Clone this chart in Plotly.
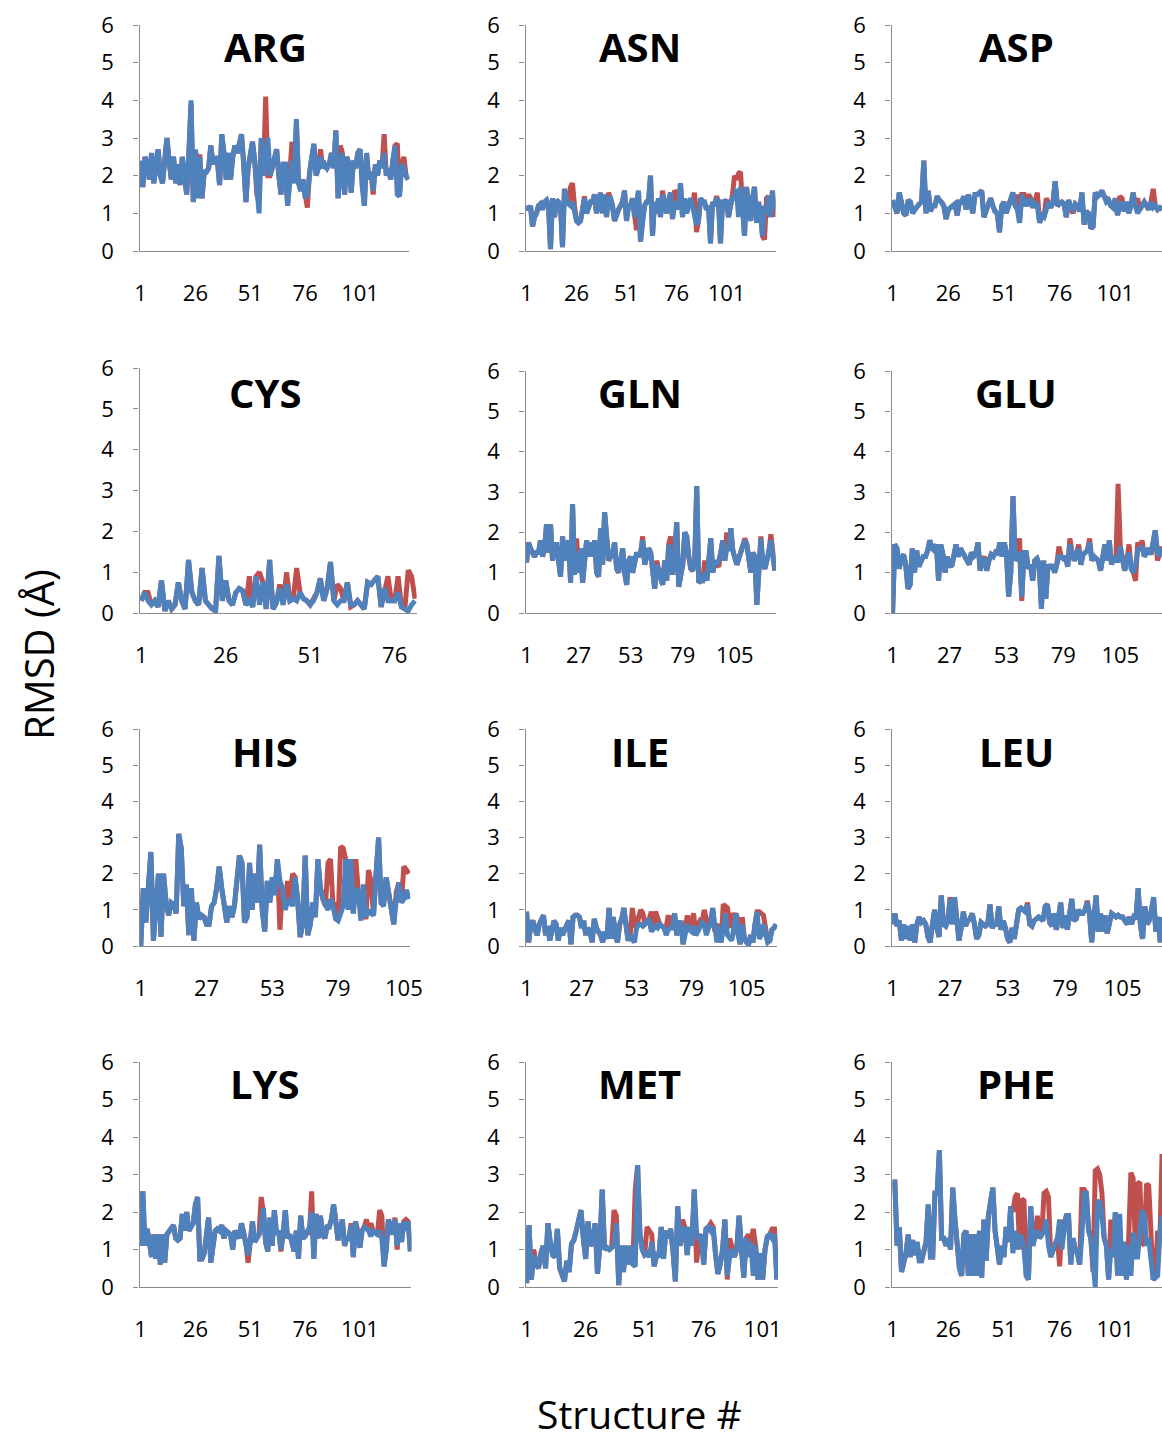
import plotly.graph_objects as go

W, H = 1162, 1439

# RMSD (Å) per structure; *_S1 is drawn first (red), *_S2 on top (blue)
ARG_S1 = [2.4, 1.7, 2.5, 2.3, 1.9, 2.6, 1.8, 2.4, 2.7, 2.0,
          1.8, 2.4, 3.0, 2.4, 1.9, 2.5, 1.8, 2.3, 1.75, 2.5,
          2.0, 1.5, 2.6, 3.9, 1.3, 2.6, 2.5, 2.5, 1.4, 2.1,
          2.1, 2.2, 2.8, 2.3, 2.5, 2.4, 1.75, 3.1, 2.6, 1.9,
          2.6, 1.9, 2.5, 2.8, 2.6, 2.9, 3.1, 2.3, 1.3, 2.2,
          2.5, 2.9, 2.4, 1.5, 1.3, 3.0, 2.0, 4.1, 2.0, 2.0,
          2.2, 2.4, 2.7, 2.0, 1.5, 2.3, 2.3, 1.2, 2.0, 2.9,
          1.8, 3.4, 1.8, 1.6, 1.9, 1.4, 1.15, 2.1, 2.5, 2.8,
          2.0, 2.2, 2.7, 2.2, 2.3, 2.2, 2.3, 2.6, 2.2, 3.2,
          1.4, 2.8, 2.6, 1.5, 2.5, 2.3, 1.55, 2.4, 2.2, 2.6,
          2.7, 1.7, 1.2, 2.6, 1.9, 2.1, 1.5, 2.3, 2.0, 2.4,
          2.2, 3.1, 2.0, 2.2, 1.9, 2.4, 2.8, 2.85, 1.45, 2.3,
          2.5, 2.0, 1.9]
ARG_S2 = [2.4, 1.7, 2.5, 2.3, 1.9, 2.6, 1.8, 2.4, 2.7, 2.0,
          1.8, 2.4, 3.0, 2.4, 1.9, 2.5, 1.8, 2.3, 1.75, 2.5,
          2.0, 1.5, 2.6, 4.0, 1.3, 2.7, 1.4, 2.5, 1.4, 2.1,
          2.1, 2.2, 2.8, 2.3, 2.5, 2.4, 1.75, 3.1, 2.6, 1.9,
          2.6, 1.9, 2.5, 2.8, 2.6, 2.9, 3.1, 2.3, 1.3, 2.2,
          2.5, 2.9, 2.4, 1.5, 1.0, 3.0, 2.0, 2.3, 3.0, 2.0,
          2.2, 2.4, 2.7, 2.0, 1.5, 2.3, 2.3, 1.2, 2.0, 2.4,
          1.8, 3.5, 1.8, 1.6, 1.9, 1.4, 1.5, 2.1, 2.5, 2.85,
          2.0, 2.2, 2.5, 2.2, 2.3, 2.2, 2.3, 2.6, 2.2, 3.2,
          1.4, 2.0, 2.6, 1.5, 2.5, 2.3, 1.55, 2.4, 2.2, 2.6,
          2.7, 1.7, 1.2, 2.6, 1.9, 2.1, 1.6, 2.3, 2.0, 2.4,
          2.2, 2.6, 2.0, 2.2, 1.9, 2.4, 2.8, 1.5, 1.45, 2.3,
          2.2, 2.0, 1.9]

ASN_S1 = [1.2, 1.1, 1.2, 0.65, 0.9, 1.0, 1.2, 1.25, 1.1, 1.3,
          1.35, 1.2, 0.05, 1.4, 0.9, 1.35, 1.3, 1.2, 0.1, 1.65,
          1.3, 1.25, 1.7, 1.8, 1.2, 0.8, 0.75, 0.8, 1.1, 1.45,
          1.0, 1.2, 1.3, 1.3, 1.5, 1.0, 1.3, 1.55, 1.0, 1.5,
          0.9, 1.55, 1.4, 1.2, 0.8, 1.0, 1.1, 1.2, 1.3, 1.6,
          0.8, 1.2, 1.2, 1.4, 0.9, 0.55, 1.6, 0.25, 0.8, 1.2,
          1.3, 1.3, 2.0, 0.4, 1.3, 1.0, 1.4, 0.9, 1.6, 1.3,
          1.0, 1.3, 1.55, 0.85, 1.6, 1.55, 1.1, 1.8, 0.9, 1.4,
          1.0, 1.2, 1.4, 1.2, 1.55, 0.5, 0.8, 1.4, 1.3, 1.3,
          1.1, 1.2, 0.2, 1.3, 1.2, 1.45, 1.3, 0.2, 1.3, 1.3,
          1.35, 0.9, 1.2, 1.5, 2.0, 1.9, 2.05, 2.1, 1.2, 0.4,
          1.7, 1.2, 0.8, 1.4, 1.7, 0.75, 1.3, 1.0, 0.4, 0.3,
          1.4, 1.45, 0.9, 1.6, 0.9]
ASN_S2 = [1.2, 1.1, 1.2, 0.65, 0.9, 1.0, 1.2, 1.25, 1.1, 1.3,
          1.35, 1.2, 0.05, 1.4, 0.9, 1.35, 1.3, 1.2, 0.1, 1.65,
          1.3, 1.25, 1.2, 1.3, 1.1, 0.8, 0.75, 0.8, 1.1, 1.4,
          1.0, 1.2, 1.3, 1.3, 1.5, 1.0, 1.3, 1.55, 1.0, 1.5,
          0.9, 1.4, 1.4, 1.2, 0.8, 1.0, 1.1, 1.2, 1.3, 1.6,
          0.8, 1.2, 1.2, 1.4, 0.9, 1.3, 1.6, 0.25, 0.8, 1.2,
          1.3, 1.3, 2.0, 0.4, 1.3, 1.0, 1.4, 0.9, 1.5, 1.3,
          1.0, 1.3, 1.55, 0.85, 1.2, 1.3, 1.1, 1.8, 0.9, 1.4,
          1.0, 1.2, 1.4, 1.2, 1.0, 0.7, 0.8, 1.4, 1.3, 1.3,
          1.1, 1.2, 0.2, 1.3, 1.2, 1.4, 1.3, 0.2, 1.3, 1.3,
          1.35, 0.9, 1.2, 1.4, 1.4, 1.65, 0.9, 1.7, 1.2, 0.4,
          1.7, 1.2, 0.8, 1.4, 1.7, 0.75, 1.3, 1.0, 0.4, 1.2,
          1.0, 1.45, 0.9, 1.6, 1.1]

ASP_S1 = [1.35, 1.2, 1.0, 1.55, 1.2, 1.0, 0.95, 1.35, 1.3, 1.0,
          1.1, 1.2, 1.25, 1.3, 2.4, 1.0, 1.6, 1.05, 1.2, 1.2,
          1.45, 1.35, 1.3, 1.2, 0.85, 1.1, 1.15, 1.2, 1.25, 0.95,
          1.3, 1.3, 1.45, 1.1, 1.5, 1.3, 1.0, 1.5, 1.5, 1.55,
          1.6, 0.9, 1.1, 1.2, 1.4, 1.2, 1.05, 1.0, 0.5, 1.2,
          1.3, 1.0, 1.2, 1.4, 1.55, 1.2, 1.5, 0.75, 1.5, 1.5,
          1.3, 1.5, 1.4, 1.15, 1.3, 1.55, 0.75, 0.95, 0.9, 1.4,
          1.3, 1.15, 1.3, 1.85, 1.2, 1.25, 1.3, 1.25, 0.9, 1.35,
          1.15, 1.0, 1.25, 1.2, 1.05, 1.55, 0.7, 1.05, 1.0, 0.6,
          0.65, 1.55, 1.45, 1.5, 1.6, 1.45, 1.4, 1.35, 1.2, 1.15,
          1.4, 0.95, 1.45, 1.4, 1.05, 1.3, 1.0, 1.2, 1.55, 1.2,
          1.4, 1.1, 1.2, 1.3, 1.2, 1.1, 1.3, 1.65, 1.2, 1.1,
          1.15, 1.1]
ASP_S2 = [1.35, 1.2, 1.0, 1.55, 1.2, 1.0, 0.95, 1.35, 1.3, 1.0,
          1.1, 1.2, 1.25, 1.3, 2.4, 1.0, 1.6, 1.05, 1.2, 1.2,
          1.45, 1.35, 1.25, 1.2, 0.85, 1.1, 1.15, 1.2, 1.25, 0.95,
          1.3, 1.3, 1.45, 1.1, 1.5, 1.3, 1.0, 1.5, 1.5, 1.55,
          1.6, 0.9, 1.1, 1.2, 1.4, 1.2, 1.05, 1.0, 0.5, 1.2,
          1.3, 1.0, 1.2, 1.4, 1.55, 1.2, 1.1, 0.75, 1.5, 1.2,
          1.3, 1.2, 1.4, 1.15, 1.3, 1.2, 0.75, 0.95, 0.9, 1.1,
          1.3, 1.15, 1.3, 1.85, 1.2, 1.25, 1.3, 1.25, 0.9, 1.35,
          1.15, 1.1, 1.25, 1.2, 1.05, 1.55, 0.7, 1.05, 1.0, 0.6,
          0.65, 1.55, 1.45, 1.5, 1.6, 1.45, 1.3, 1.35, 1.2, 1.15,
          1.4, 0.95, 1.2, 1.3, 1.05, 1.3, 1.0, 1.2, 1.55, 1.2,
          1.0, 1.1, 1.2, 1.3, 1.2, 1.1, 1.3, 1.15, 1.2, 1.1,
          1.15, 1.1]

CYS_S1 = [0.3, 0.5, 0.5, 0.2, 0.3, 0.15, 0.8, 0.05, 0.3, 0.1,
          0.2, 0.75, 0.3, 0.1, 1.3, 0.5, 0.3, 0.2, 1.1, 0.3,
          0.2, 0.1, 0.05, 1.4, 0.3, 0.8, 0.3, 0.2, 0.5, 0.6,
          0.55, 0.2, 0.9, 0.15, 0.9, 1.0, 0.75, 0.1, 1.3, 0.1,
          0.25, 0.7, 0.2, 1.0, 0.3, 0.35, 1.1, 0.5, 0.35, 0.3,
          0.2, 0.35, 0.5, 0.85, 0.3, 0.6, 1.25, 0.3, 0.7, 0.6,
          0.3, 0.75, 0.15, 0.2, 0.3, 0.2, 0.1, 0.75, 0.7, 0.8,
          0.9, 0.15, 0.6, 0.9, 0.3, 0.3, 0.9, 0.15, 0.1, 1.05,
          0.9, 0.35]
CYS_S2 = [0.3, 0.5, 0.3, 0.2, 0.3, 0.15, 0.8, 0.05, 0.3, 0.1,
          0.2, 0.75, 0.3, 0.1, 1.3, 0.5, 0.3, 0.2, 1.1, 0.3,
          0.2, 0.1, 0.05, 1.4, 0.3, 0.8, 0.3, 0.2, 0.5, 0.6,
          0.55, 0.2, 0.3, 0.15, 0.9, 0.2, 0.75, 0.1, 1.3, 0.1,
          0.25, 0.6, 0.2, 0.7, 0.3, 0.35, 0.3, 0.5, 0.35, 0.3,
          0.2, 0.3, 0.5, 0.85, 0.3, 0.6, 1.25, 0.3, 0.2, 0.3,
          0.3, 0.75, 0.2, 0.2, 0.3, 0.2, 0.1, 0.75, 0.7, 0.8,
          0.9, 0.15, 0.6, 0.3, 0.3, 0.3, 0.5, 0.15, 0.1, 0.05,
          0.2, 0.3]

GLN_S1 = [1.25, 1.75, 1.6, 1.5, 1.4, 1.5, 1.5, 1.8, 1.4, 1.6,
          2.2, 1.5, 2.2, 1.3, 1.7, 1.7, 1.2, 0.9, 1.9, 1.3,
          1.6, 1.8, 0.75, 2.7, 0.95, 1.85, 1.0, 1.6, 0.75, 1.3,
          1.8, 1.4, 1.75, 1.4, 1.8, 1.0, 0.9, 2.1, 1.2, 2.5,
          1.8, 1.3, 1.4, 1.5, 1.75, 1.1, 1.0, 1.4, 1.6, 1.0,
          0.7, 1.3, 1.4, 1.0, 1.2, 1.5, 1.4, 1.5, 1.9, 1.2,
          1.4, 1.6, 1.5, 1.0, 0.6, 1.3, 1.0, 0.85, 0.7, 1.3,
          0.8, 1.7, 1.9, 0.95, 1.5, 2.25, 0.65, 1.0, 1.2, 2.0,
          1.9, 1.4, 1.1, 1.05, 1.3, 3.15, 0.75, 0.8, 0.8, 1.3,
          0.8, 1.3, 1.85, 1.0, 1.3, 1.2, 1.15, 1.5, 1.8, 1.3,
          2.0, 1.55, 2.1, 1.55, 1.4, 1.2, 1.35, 1.5, 1.7, 1.85,
          1.7, 1.3, 1.0, 1.5, 1.4, 0.2, 1.2, 1.9, 1.2, 1.1,
          1.3, 1.5, 1.95, 1.4, 1.05]
GLN_S2 = [1.25, 1.75, 1.6, 1.5, 1.4, 1.5, 1.5, 1.8, 1.4, 1.6,
          2.2, 1.5, 2.2, 1.3, 1.7, 1.7, 1.2, 0.9, 1.9, 1.3,
          1.6, 1.8, 0.75, 2.7, 0.95, 1.5, 1.0, 1.6, 0.75, 1.3,
          1.8, 1.4, 1.75, 1.4, 1.8, 1.0, 0.9, 2.1, 1.2, 2.5,
          1.8, 1.3, 1.4, 1.5, 1.75, 1.1, 1.0, 1.4, 1.6, 1.0,
          0.7, 1.3, 1.4, 1.0, 1.2, 1.5, 1.4, 1.5, 1.8, 1.2,
          1.4, 1.6, 1.5, 1.0, 0.6, 1.2, 1.0, 0.85, 0.7, 1.3,
          0.8, 1.7, 1.4, 0.95, 1.5, 2.25, 0.65, 1.0, 1.2, 2.0,
          1.9, 1.4, 1.1, 1.05, 1.3, 3.15, 0.75, 0.8, 0.8, 1.0,
          0.8, 1.3, 1.85, 1.0, 1.3, 1.2, 1.3, 1.5, 1.8, 1.3,
          1.6, 1.55, 2.1, 1.55, 1.4, 1.2, 1.35, 1.5, 1.7, 1.8,
          1.7, 1.3, 1.0, 1.5, 1.4, 0.2, 1.2, 1.85, 1.2, 1.1,
          1.3, 1.5, 1.8, 1.4, 1.05]

GLU_S1 = [0.0, 1.7, 1.6, 1.1, 1.35, 1.45, 1.2, 0.6, 0.7, 1.6,
          1.0, 1.55, 1.15, 1.3, 1.4, 1.4, 1.55, 1.8, 1.6, 1.55,
          1.7, 0.8, 1.7, 1.45, 1.0, 1.4, 1.2, 1.15, 1.4, 1.7,
          1.4, 1.6, 1.5, 1.4, 1.3, 1.2, 1.5, 1.4, 1.45, 1.75,
          1.05, 1.3, 1.4, 1.05, 1.3, 1.45, 1.4, 1.5, 1.45, 1.75,
          1.4, 1.75, 1.5, 0.4, 1.0, 2.9, 1.3, 1.4, 1.85, 0.3,
          1.5, 1.5, 1.1, 1.2, 0.8, 1.3, 1.35, 1.2, 0.1, 1.3,
          0.35, 1.2, 1.1, 1.2, 1.0, 1.2, 1.65, 1.4, 1.35, 1.4,
          1.15, 1.85, 1.5, 1.3, 1.45, 1.7, 1.2, 1.45, 1.5, 1.55,
          1.85, 1.3, 1.4, 1.35, 1.3, 1.05, 1.5, 1.7, 1.3, 1.8,
          1.2, 1.4, 1.25, 3.2, 1.65, 1.3, 1.05, 1.3, 1.7, 1.1,
          1.0, 0.8, 1.75, 1.6, 1.8, 1.4, 1.5, 1.6, 1.45, 1.7,
          2.05, 1.3, 1.45, 1.65]
GLU_S2 = [0.0, 1.7, 1.6, 1.1, 1.35, 1.45, 1.2, 0.6, 0.7, 1.6,
          1.0, 1.55, 1.15, 1.3, 1.4, 1.4, 1.55, 1.8, 1.6, 1.55,
          1.7, 0.8, 1.7, 1.45, 1.0, 1.4, 1.2, 1.15, 1.4, 1.7,
          1.4, 1.6, 1.5, 1.4, 1.3, 1.2, 1.5, 1.4, 1.45, 1.75,
          1.05, 1.3, 1.35, 1.05, 1.3, 1.45, 1.4, 1.5, 1.45, 1.75,
          1.4, 1.75, 1.5, 0.4, 1.0, 2.9, 1.3, 1.4, 1.5, 0.4,
          1.5, 1.5, 1.1, 1.2, 0.8, 1.3, 1.35, 1.2, 0.1, 1.3,
          0.35, 1.2, 1.1, 1.2, 1.0, 1.2, 1.4, 1.4, 1.35, 1.4,
          1.15, 1.7, 1.5, 1.3, 1.45, 1.6, 1.2, 1.45, 1.5, 1.55,
          1.75, 1.3, 1.4, 1.35, 1.3, 1.05, 1.5, 1.7, 1.3, 1.8,
          1.2, 1.4, 1.3, 1.3, 1.65, 1.3, 1.05, 1.3, 1.5, 1.1,
          1.0, 1.2, 1.55, 1.6, 1.65, 1.4, 1.5, 1.6, 1.45, 1.7,
          2.05, 1.5, 1.45, 1.6]

HIS_S1 = [0.0, 1.6, 0.65, 1.6, 2.6, 0.15, 1.2, 2.0, 0.25, 2.0,
          1.2, 0.85, 1.2, 1.15, 0.9, 3.1, 2.7, 1.1, 1.7, 0.3,
          1.6, 0.15, 1.2, 0.75, 0.85, 0.8, 0.6, 0.6, 1.1, 1.2,
          1.6, 2.2, 1.6, 1.0, 0.65, 1.1, 0.8, 1.1, 1.9, 2.5,
          2.3, 0.65, 0.8, 2.3, 1.0, 2.0, 1.2, 2.8, 1.0, 0.4,
          1.8, 1.2, 1.9, 1.5, 2.4, 0.45, 1.6, 1.0, 1.8, 1.3,
          2.0, 1.9, 1.3, 0.25, 0.6, 2.5, 0.3, 0.6, 1.2, 0.8,
          2.4, 1.6, 1.3, 1.1, 2.3, 2.4, 1.1, 1.2, 0.7, 2.75,
          2.7, 2.4, 1.7, 2.4, 0.9, 2.4, 1.5, 1.2, 0.8, 0.8,
          2.1, 1.8, 0.85, 2.0, 3.0, 1.2, 1.2, 1.9, 1.5, 1.2,
          0.6, 1.5, 1.75, 1.2, 2.2, 2.1, 2.0]
HIS_S2 = [0.0, 1.6, 0.65, 1.6, 2.6, 0.15, 1.2, 2.0, 0.25, 2.0,
          1.2, 0.85, 1.2, 1.15, 0.9, 3.1, 2.7, 1.1, 1.7, 0.3,
          1.6, 0.15, 1.2, 0.75, 0.85, 0.8, 0.6, 0.6, 1.1, 1.2,
          1.6, 2.2, 1.6, 1.0, 0.65, 1.1, 0.8, 1.1, 1.9, 2.5,
          2.3, 0.65, 0.8, 2.3, 1.0, 2.0, 1.2, 2.8, 1.0, 0.4,
          1.8, 1.2, 1.9, 1.4, 2.4, 1.8, 1.6, 1.0, 1.2, 1.3,
          1.1, 1.9, 1.3, 0.25, 0.6, 2.5, 0.3, 0.6, 1.2, 0.8,
          2.4, 1.6, 1.3, 1.1, 1.0, 1.3, 1.1, 0.75, 0.7, 0.9,
          1.1, 2.4, 1.0, 2.4, 0.9, 1.6, 1.5, 0.7, 1.7, 0.8,
          1.0, 0.9, 0.85, 2.0, 3.0, 1.2, 1.1, 1.9, 1.5, 1.2,
          0.6, 1.3, 1.75, 1.2, 1.3, 1.55, 1.3]

ILE_S1 = [0.95, 0.1, 0.6, 0.7, 0.45, 0.3, 0.6, 0.75, 0.85, 0.3,
          0.55, 0.15, 0.5, 0.7, 0.6, 0.15, 0.5, 0.3, 0.45, 0.55,
          0.7, 0.05, 0.8, 0.85, 0.85, 0.8, 0.5, 0.7, 0.3, 0.5,
          0.4, 0.1, 0.75, 0.5, 0.4, 0.3, 0.1, 0.4, 0.2, 1.05,
          0.2, 0.8, 0.3, 0.1, 0.6, 0.75, 1.05, 0.5, 0.15, 0.3,
          1.05, 0.6, 0.5, 0.8, 1.0, 0.9, 0.6, 0.7, 0.75, 0.95,
          0.5, 0.95, 0.8, 0.6, 0.55, 0.5, 0.5, 0.85, 0.5, 0.75,
          0.9, 0.3, 0.5, 0.7, 0.05, 0.4, 0.85, 0.45, 0.7, 0.9,
          0.3, 0.6, 0.7, 0.65, 1.0, 0.7, 0.5, 0.6, 1.05, 0.4,
          0.5, 0.6, 0.1, 1.15, 1.1, 1.05, 0.5, 0.9, 0.8, 0.9,
          0.7, 0.05, 0.8, 0.2, 0.1, 0.05, 0.3, 0.1, 0.6, 0.95,
          0.95, 0.9, 0.85, 0.5, 0.1, 0.15, 0.45, 0.5, 0.6]
ILE_S2 = [0.95, 0.1, 0.6, 0.7, 0.45, 0.3, 0.6, 0.75, 0.85, 0.3,
          0.55, 0.15, 0.5, 0.7, 0.6, 0.15, 0.5, 0.3, 0.45, 0.55,
          0.7, 0.05, 0.8, 0.85, 0.85, 0.8, 0.5, 0.7, 0.3, 0.5,
          0.4, 0.1, 0.75, 0.5, 0.4, 0.3, 0.1, 0.4, 0.2, 1.05,
          0.2, 0.8, 0.3, 0.1, 0.6, 0.75, 1.05, 0.5, 0.15, 0.3,
          0.2, 0.1, 0.5, 0.6, 0.6, 0.55, 0.6, 0.7, 0.75, 0.4,
          0.5, 0.55, 0.5, 0.6, 0.55, 0.5, 0.3, 0.45, 0.5, 0.5,
          0.9, 0.3, 0.5, 0.7, 0.05, 0.4, 0.6, 0.45, 0.4, 0.55,
          0.3, 0.4, 0.55, 0.65, 0.6, 0.3, 0.5, 0.6, 1.05, 0.4,
          0.1, 0.55, 0.1, 0.5, 0.9, 0.3, 0.2, 0.15, 0.5, 0.9,
          0.3, 0.05, 0.6, 0.2, 0.1, 0.05, 0.3, 0.1, 0.6, 0.95,
          0.2, 0.3, 0.6, 0.3, 0.1, 0.15, 0.45, 0.5, 0.6]

LEU_S1 = [0.6, 0.9, 0.55, 0.7, 0.15, 0.6, 0.2, 0.55, 0.15, 0.6,
          0.1, 0.6, 0.8, 0.65, 0.7, 0.6, 0.25, 0.1, 0.6, 1.0,
          0.5, 0.25, 1.4, 0.6, 0.55, 0.7, 1.35, 0.6, 1.35, 0.75,
          0.15, 0.5, 0.95, 0.55, 0.7, 0.75, 0.9, 0.6, 0.2, 0.3,
          0.65, 0.6, 0.55, 0.6, 1.15, 0.5, 0.6, 0.6, 1.1, 0.45,
          0.7, 0.5, 0.2, 0.1, 0.5, 0.2, 0.6, 1.0, 1.05, 1.0,
          0.95, 1.2, 0.6, 0.55, 0.7, 0.75, 0.8, 0.75, 0.7, 1.1,
          1.15, 0.65, 0.55, 0.9, 0.45, 0.8, 1.2, 0.5, 0.85, 0.45,
          1.0, 1.3, 0.7, 0.75, 1.0, 0.9, 0.9, 1.0, 1.25, 0.9,
          0.1, 1.0, 1.4, 0.4, 0.9, 0.4, 0.85, 0.35, 0.6, 0.9,
          0.85, 0.8, 0.85, 0.8, 0.8, 0.7, 0.6, 0.8, 0.6, 0.8,
          0.75, 1.6, 0.6, 0.2, 1.1, 0.6, 0.7, 1.0, 1.3, 0.4,
          0.8, 0.1, 0.8]
LEU_S2 = [0.6, 0.9, 0.55, 0.7, 0.15, 0.6, 0.2, 0.55, 0.15, 0.6,
          0.1, 0.6, 0.8, 0.65, 0.7, 0.6, 0.25, 0.1, 0.6, 1.0,
          0.5, 0.25, 1.4, 0.6, 0.55, 0.7, 1.3, 0.6, 1.35, 0.75,
          0.15, 0.5, 0.95, 0.55, 0.7, 0.75, 0.9, 0.6, 0.2, 0.3,
          0.65, 0.6, 0.55, 0.6, 1.15, 0.5, 0.6, 0.6, 1.1, 0.45,
          0.7, 0.5, 0.2, 0.1, 0.5, 0.2, 0.6, 1.0, 1.05, 1.0,
          0.95, 1.15, 0.6, 0.55, 0.7, 0.75, 0.8, 0.75, 0.7, 1.1,
          1.15, 0.65, 0.55, 0.9, 0.45, 0.8, 1.2, 0.5, 0.85, 0.45,
          1.0, 1.3, 0.7, 0.75, 1.0, 0.9, 0.9, 1.0, 1.2, 0.9,
          0.1, 1.0, 1.4, 0.4, 0.9, 0.4, 0.85, 0.35, 0.6, 0.9,
          0.85, 0.8, 0.85, 0.8, 0.8, 0.7, 0.6, 0.8, 0.6, 0.8,
          0.75, 1.6, 0.6, 0.2, 1.1, 0.6, 0.7, 1.0, 1.35, 0.4,
          0.8, 0.1, 0.8]

LYS_S1 = [1.1, 2.55, 1.1, 1.55, 1.2, 0.8, 1.4, 0.75, 1.4, 0.6,
          1.4, 0.65, 1.4, 1.5, 1.55, 1.65, 1.3, 1.25, 1.3, 1.95,
          1.5, 2.0, 1.5, 1.6, 1.7, 2.2, 2.4, 0.75, 0.75, 0.9,
          1.3, 1.85, 0.65, 1.1, 1.5, 1.55, 1.5, 1.65, 1.3, 1.5,
          1.45, 1.4, 1.0, 1.5, 1.4, 1.3, 1.7, 1.45, 1.2, 0.65,
          1.2, 1.75, 1.2, 1.3, 1.4, 2.4, 2.0, 1.2, 0.95, 1.85,
          1.1, 2.05, 1.4, 1.5, 0.95, 1.45, 2.05, 1.3, 1.4, 1.2,
          0.95, 1.5, 0.75, 1.9, 1.3, 1.35, 1.5, 1.4, 2.55, 0.75,
          1.95, 1.3, 1.9, 1.4, 1.3, 1.6, 1.6, 1.8, 2.2, 1.8,
          1.25, 1.5, 1.8, 1.1, 1.3, 1.3, 1.7, 0.8, 1.75, 1.5,
          1.05, 1.5, 1.6, 1.8, 1.5, 1.7, 1.5, 1.45, 1.4, 2.05,
          1.9, 0.55, 1.0, 1.8, 1.6, 1.4, 1.85, 1.0, 1.7, 1.2,
          1.75, 1.8, 1.75, 0.95]
LYS_S2 = [1.1, 2.55, 1.1, 1.55, 1.2, 0.8, 1.4, 0.75, 1.4, 0.6,
          1.4, 0.65, 1.4, 1.5, 1.55, 1.65, 1.3, 1.25, 1.3, 1.95,
          1.5, 2.0, 1.5, 1.6, 1.7, 2.2, 2.4, 0.75, 0.75, 0.9,
          1.3, 1.85, 0.65, 1.1, 1.5, 1.55, 1.5, 1.65, 1.3, 1.5,
          1.45, 1.4, 1.0, 1.5, 1.4, 1.3, 1.7, 1.45, 1.2, 0.85,
          1.2, 1.75, 1.2, 1.3, 1.4, 1.6, 2.1, 1.2, 0.95, 1.85,
          1.1, 2.05, 1.4, 1.5, 1.0, 1.45, 2.05, 1.3, 1.4, 1.2,
          0.95, 1.5, 0.75, 1.9, 1.3, 1.35, 1.5, 1.6, 2.0, 0.75,
          1.95, 1.3, 1.9, 1.4, 1.3, 1.6, 1.6, 1.8, 2.2, 1.8,
          1.25, 1.5, 1.8, 1.1, 1.3, 1.3, 1.65, 0.8, 1.75, 1.3,
          1.05, 1.5, 1.6, 1.55, 1.5, 1.35, 1.5, 1.45, 1.4, 1.5,
          1.3, 0.55, 1.0, 1.8, 1.6, 1.4, 1.8, 1.1, 1.7, 1.2,
          1.75, 1.5, 1.75, 0.95]

MET_S1 = [0.1, 1.65, 0.2, 1.0, 0.6, 0.5, 0.9, 1.1, 0.5, 1.7,
          1.2, 0.85, 0.8, 1.55, 0.5, 0.3, 0.15, 0.7, 0.4, 1.15,
          1.25, 1.5, 1.8, 2.05, 1.3, 0.75, 1.75, 1.1, 1.2, 1.7,
          0.35, 1.1, 2.6, 1.0, 1.05, 1.0, 1.05, 2.05, 1.9, 0.05,
          1.1, 0.4, 1.1, 0.6, 1.1, 0.6, 2.6, 3.25, 1.4, 1.0,
          0.85, 1.6, 1.5, 1.4, 0.55, 0.85, 0.8, 1.6, 0.75, 1.5,
          1.3, 1.55, 0.95, 0.15, 2.15, 1.1, 1.8, 1.6, 0.85, 1.6,
          1.1, 2.6, 0.65, 1.3, 1.4, 0.6, 1.55, 1.6, 1.7, 1.6,
          0.9, 0.35, 0.6, 1.0, 1.8, 0.2, 1.3, 1.0, 0.8, 1.0,
          1.9, 1.0, 0.25, 1.3, 1.4, 1.2, 1.55, 1.1, 0.2, 0.9,
          0.2, 1.0, 1.35, 1.4, 1.55, 1.55, 0.2]
MET_S2 = [0.1, 1.65, 0.2, 0.85, 0.6, 0.5, 0.9, 1.1, 0.5, 1.7,
          1.2, 0.85, 0.8, 1.55, 0.5, 0.3, 0.15, 0.7, 0.4, 1.15,
          1.25, 1.5, 1.8, 2.05, 1.3, 0.75, 1.75, 1.1, 1.2, 1.7,
          0.35, 1.1, 2.6, 1.0, 1.05, 1.0, 1.05, 1.1, 1.7, 0.05,
          1.1, 0.4, 1.1, 0.6, 1.1, 0.6, 0.55, 3.25, 1.4, 1.0,
          0.85, 0.9, 0.8, 1.2, 0.55, 0.85, 0.8, 1.6, 0.75, 1.5,
          1.3, 1.55, 0.95, 0.15, 2.15, 1.1, 1.5, 1.6, 0.85, 1.6,
          1.1, 2.6, 1.4, 1.3, 1.4, 0.6, 1.55, 1.6, 1.5, 1.6,
          0.9, 0.35, 0.6, 1.0, 1.8, 0.3, 0.8, 1.0, 0.8, 1.0,
          1.9, 1.0, 0.25, 1.3, 0.8, 1.2, 0.3, 1.1, 0.2, 0.9,
          0.2, 1.0, 1.35, 1.4, 1.3, 1.4, 0.2]

PHE_S1 = [2.8, 2.8, 1.1, 1.6, 0.4, 0.6, 0.9, 1.4, 0.8, 1.25,
          0.85, 1.2, 0.7, 0.7, 1.0, 1.2, 2.2, 0.8, 0.8, 2.5,
          2.5, 3.65, 1.3, 1.3, 1.1, 1.3, 1.0, 2.65, 1.8, 1.0,
          0.5, 0.3, 1.4, 1.5, 0.3, 1.4, 0.3, 1.4, 0.3, 1.5,
          0.25, 1.8, 0.7, 1.9, 2.2, 2.65, 1.5, 1.0, 0.6, 1.1,
          0.8, 1.6, 1.2, 2.15, 2.0, 2.4, 2.5, 1.0, 2.35, 2.3,
          0.3, 0.2, 2.15, 1.1, 1.4, 1.9, 1.3, 1.4, 2.5, 2.55,
          2.4, 0.8, 1.0, 1.2, 1.3, 0.55, 1.75, 1.7, 1.9, 1.9,
          0.6, 1.3, 1.0, 0.9, 0.6, 2.6, 2.6, 2.5, 1.5, 1.3,
          0.4, 3.1, 3.15, 3.0, 2.5, 1.3, 1.1, 0.2, 1.8, 0.8,
          2.0, 0.3, 1.6, 0.3, 1.2, 0.2, 1.3, 3.05, 2.9, 1.1,
          2.75, 2.8, 1.2, 1.1, 2.75, 2.7, 1.5, 0.2, 0.25, 1.5,
          1.2, 3.55]
PHE_S2 = [2.8, 2.8, 1.1, 1.6, 0.4, 0.6, 0.9, 1.4, 0.8, 1.25,
          0.85, 1.2, 0.7, 0.7, 1.0, 1.2, 2.2, 0.8, 0.8, 2.5,
          2.5, 3.65, 1.3, 1.3, 1.1, 1.3, 1.0, 2.65, 1.8, 1.0,
          0.5, 0.3, 1.4, 1.5, 0.3, 1.4, 0.3, 1.4, 0.3, 1.5,
          0.25, 1.8, 0.7, 1.9, 2.2, 2.65, 1.5, 1.0, 0.6, 1.1,
          0.8, 1.6, 1.2, 2.15, 0.9, 1.5, 1.0, 1.4, 1.3, 1.0,
          0.3, 0.2, 2.15, 1.1, 1.4, 1.5, 1.3, 1.4, 1.5, 1.8,
          1.1, 0.8, 1.0, 1.2, 1.3, 1.8, 1.0, 1.5, 1.9, 1.9,
          0.6, 1.3, 1.0, 0.9, 0.6, 1.4, 2.5, 2.5, 1.5, 1.3,
          0.4, 0.0, 2.25, 2.3, 1.9, 1.3, 1.1, 0.2, 1.0, 0.8,
          2.0, 0.3, 1.95, 0.3, 1.2, 0.2, 1.1, 0.3, 1.45, 0.8,
          0.8, 1.4, 2.05, 1.9, 1.1, 1.3, 0.8, 0.2, 0.25, 0.3,
          1.4, 1.9]

# category tick labels shown under each panel
TICKS_25 = [1, 26, 51, 76, 101]
TICKS_26 = [1, 27, 53, 79, 105]
TICKS_CYS = [1, 26, 51, 76]

RESIDUES = ["ARG", "ASN", "ASP", "CYS", "GLN", "GLU",
            "HIS", "ILE", "LEU", "LYS", "MET", "PHE"]
SERIES = [(ARG_S1, ARG_S2), (ASN_S1, ASN_S2), (ASP_S1, ASP_S2),
          (CYS_S1, CYS_S2), (GLN_S1, GLN_S2), (GLU_S1, GLU_S2),
          (HIS_S1, HIS_S2), (ILE_S1, ILE_S2), (LEU_S1, LEU_S2),
          (LYS_S1, LYS_S2), (MET_S1, MET_S2), (PHE_S1, PHE_S2)]
TICKS = [TICKS_25, TICKS_25, TICKS_25, TICKS_CYS, TICKS_26, TICKS_26,
         TICKS_26, TICKS_26, TICKS_26, TICKS_25, TICKS_25, TICKS_25]

# ---- layout geometry (pixels) ----
COL_X = [139.5, 525.5, 891.5]            # y-axis line of each column
COL_TITLE_X = [265, 640, 1016]
ROW_Y = [(25, 251), (371, 613), (729, 946), (1062, 1287)]   # (y=6, y=0)
ROW_TITLE_Y = [47, 392, 751, 1083]
STEP_PX = [2.194, 2.0, 2.227, 3.38, 2.003, 2.189,
           2.53, 2.115, 2.212, 2.193, 2.36, 2.227]

RED = "#C0504D"
BLUE = "#4F81BD"
AXIS_GREY = "#8A8A8A"
FONT = "Open Sans"

fig = go.Figure()
layout = dict(
    width=W, height=H,
    autosize=False,
    margin=dict(l=0, r=0, t=0, b=0, pad=0, autoexpand=False),
    paper_bgcolor="white", plot_bgcolor="white",
    showlegend=False,
    font=dict(family=FONT, color="black"),
    annotations=[],
)

for i, (name, (s1, s2), ticks) in enumerate(zip(RESIDUES, SERIES, TICKS)):
    row, col = divmod(i, 3)
    n = len(s1)
    x0 = COL_X[col]
    step = STEP_PX[i]
    x1 = min(x0 + n * step, W)
    top, bottom = ROW_Y[row]
    if name == "CYS":
        top = 368
    xs = list(range(1, n + 1))
    suffix = "" if i == 0 else str(i + 1)
    for ys, color in ((s1, RED), (s2, BLUE)):
        fig.add_trace(go.Scatter(
            x=xs, y=ys, mode="lines",
            line=dict(color=color, width=5),
            xaxis="x" + suffix, yaxis="y" + suffix,
            hoverinfo="skip",
        ))
    layout["xaxis" + suffix] = dict(
        domain=[x0 / W, x1 / W],
        range=[0.5, 0.5 + (x1 - x0) / step],
        anchor="y" + suffix,
        automargin=False,
        showline=True, linecolor=AXIS_GREY, linewidth=1.3,
        showgrid=False, zeroline=False, ticks="",
        tickmode="array", tickvals=ticks, ticktext=[str(t) for t in ticks],
        tickfont=dict(size=22, family=FONT, color="black"),
        ticklabelstandoff=22,
        fixedrange=True,
    )
    layout["yaxis" + suffix] = dict(
        domain=[1 - bottom / H, 1 - top / H],
        range=[0, 6],
        anchor="x" + suffix,
        automargin=False,
        showline=True, linecolor=AXIS_GREY, linewidth=1.3,
        showgrid=False, zeroline=False,
        ticks="outside", ticklen=5, tickcolor=AXIS_GREY, tickwidth=1.3,
        tickmode="linear", tick0=0, dtick=1,
        tickfont=dict(size=22, family=FONT, color="black"),
        ticklabelstandoff=15,
        fixedrange=True,
    )
    layout["annotations"].append(dict(
        text="<b>%s</b>" % name,
        x=COL_TITLE_X[col] / W, y=1 - ROW_TITLE_Y[row] / H,
        xref="paper", yref="paper", xanchor="center", yanchor="middle",
        showarrow=False, font=dict(size=40, family=FONT, color="black"),
    ))

layout["annotations"].append(dict(
    text="RMSD (Å)", textangle=-90,
    x=38 / W, y=1 - 655 / H, xref="paper", yref="paper",
    xanchor="center", yanchor="middle", showarrow=False,
    font=dict(size=40, family=FONT, color="black"),
))
layout["annotations"].append(dict(
    text="Structure #",
    x=640 / W, y=1 - 1413 / H, xref="paper", yref="paper",
    xanchor="center", yanchor="middle", showarrow=False,
    font=dict(size=39, family=FONT, color="black"),
))

fig.update_layout(**layout)
fig.write_html("out.html", config={"displayModeBar": False})
